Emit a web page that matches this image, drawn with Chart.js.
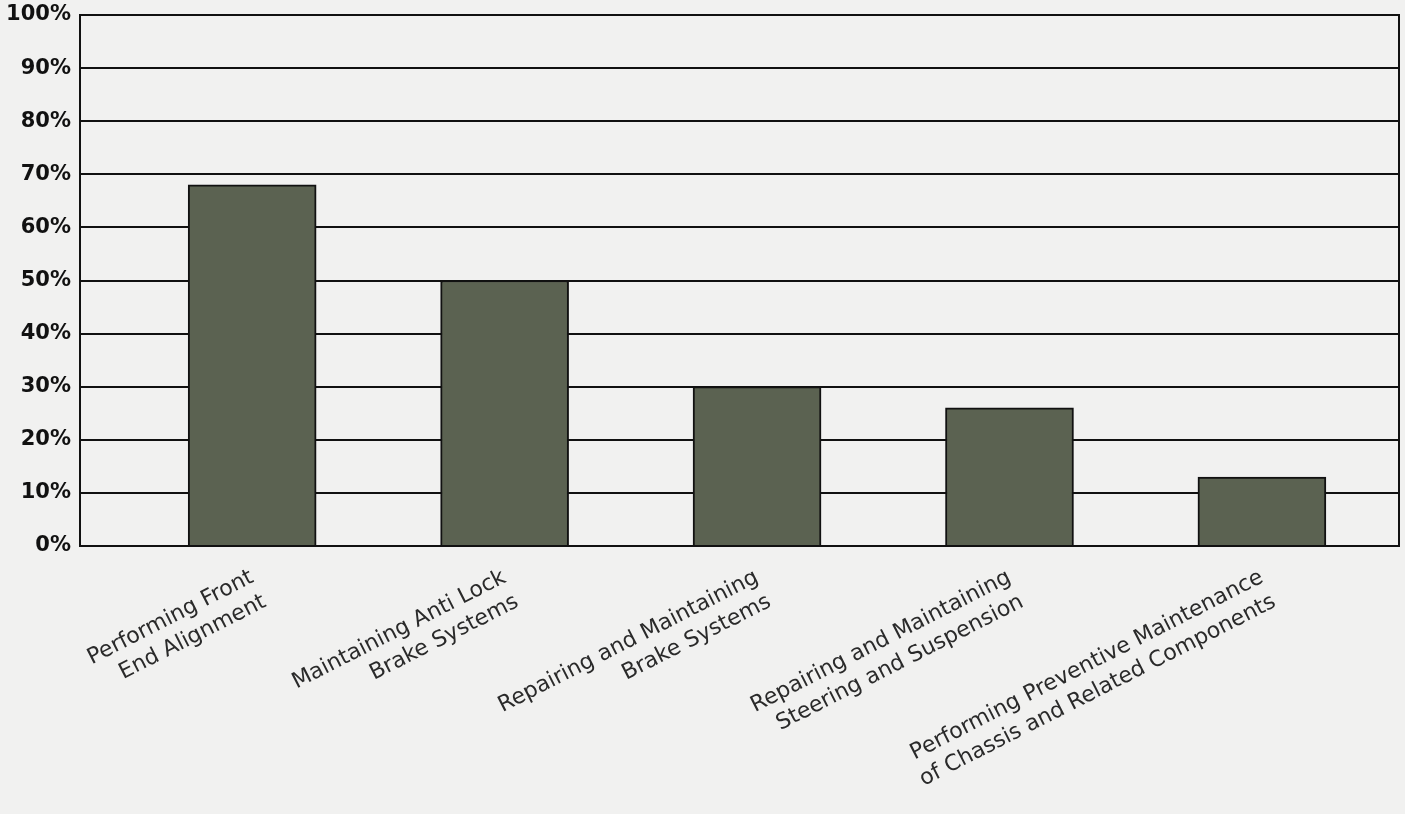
<!DOCTYPE html>
<html>
<head>
<meta charset="utf-8">
<script src="https://cdn.jsdelivr.net/npm/chart.js@4.4.1/dist/chart.umd.min.js"></script>
<style>
  html, body { margin: 0; padding: 0; background: #f1f1f0; }
  #wrap { width: 1405px; height: 814px; }
</style>
</head>
<body>
<div id="wrap"><canvas id="skillsChart"></canvas></div>
<script>
// Share of respondents per task area
const categories = [
  ['Performing Front', 'End Alignment'],
  ['Maintaining Anti Lock', 'Brake Systems'],
  ['Repairing and Maintaining', 'Brake Systems'],
  ['Repairing and Maintaining', 'Steering and Suspension'],
  ['Performing Preventive Maintenance', 'of Chassis and Related Components']
];
const percentages = [68, 50, 30, 26, 13];
const yTicks = [0, 10, 20, 30, 40, 50, 60, 70, 80, 90, 100];

document.addEventListener('DOMContentLoaded', () => {
  initTaskChart();
});

function initTaskChart() {
  const ctx = document.getElementById('skillsChart');
  if (!ctx) return;

  new Chart(ctx, {
    type: 'bar',
    data: {
      datasets: [{
        data: percentages.map((v, i) => ({ x: i, y: v })),
        backgroundColor: '#5b6251',
        borderColor: '#111111',
        borderWidth: 2,
        barThickness: 128
      }]
    },
    options: {
      responsive: true,
      maintainAspectRatio: false,
      animation: false,
      layout: { padding: { top: 15, right: 6, left: 0, bottom: 0 } },
      plugins: {
        legend: { display: false },
        tooltip: { enabled: false }
      },
      scales: {
        x: {
          type: 'linear',
          offset: false,
          min: -0.682,
          max: 4.543,
          afterBuildTicks: (scale) => {
            scale.ticks = categories.map((_, i) => ({ value: i }));
          },
          afterFit: (scale) => {
            scale.height = 268;
            scale.paddingLeft = 0;
            scale.paddingRight = 0;
          },
          grid: { display: false },
          border: { display: true, color: '#111111', width: 2 },
          ticks: {
            color: '#2a2a2a',
            font: { family: 'DejaVu Sans', size: 22, lineHeight: 1.25 },
            padding: 10,
            minRotation: 27,
            maxRotation: 27,
            autoSkip: false,
            callback: (value) => categories[value]
          }
        },
        y: {
          min: 0,
          max: 100,
          afterBuildTicks: (scale) => {
            scale.ticks = yTicks.map(v => ({ value: v }));
          },
          afterFit: (scale) => {
            scale.width = 80;
            scale.paddingTop = 0;
            scale.paddingBottom = 0;
          },
          grid: { color: '#111111', lineWidth: 2, drawTicks: false },
          border: { display: true, color: '#111111', width: 2 },
          ticks: {
            color: '#111111',
            font: { family: 'DejaVu Sans', size: 21, weight: 'bold' },
            padding: 9,
            callback: (value) => value + '%'
          }
        },
        yRight: {
          position: 'right',
          min: 0,
          max: 100,
          afterFit: (scale) => {
            scale.width = 0;
            scale.paddingTop = 0;
            scale.paddingBottom = 0;
          },
          grid: { display: false, drawTicks: false },
          border: { display: true, color: '#111111', width: 2 },
          ticks: { display: false }
        }
      }
    }
  });
}
</script>
</body>
</html>
